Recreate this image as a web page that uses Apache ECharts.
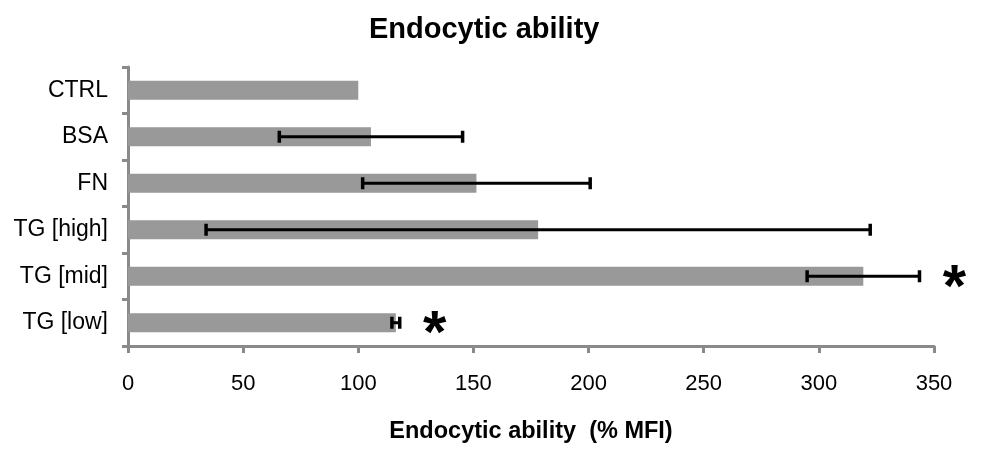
<!DOCTYPE html>
<html>
<head>
<meta charset="utf-8">
<script src="https://cdn.jsdelivr.net/npm/echarts@6/dist/echarts.min.js"></script>
<style>
html,body{margin:0;padding:0;background:#fff;}
#chart{width:984px;height:458px;}
</style>
</head>
<body>
<div id="chart"></div>
<script>
const categories = ['CTRL', 'BSA', 'FN', 'TG [high]', 'TG [mid]', 'TG [low]'];
const means = [100, 105.5, 151.3, 178.1, 319.3, 116.3];
const errors = [0, 39.8, 49.4, 144.2, 24.4, 1.7];
const significance = ['', '', '', '', '*', '*'];
const xTicks = [0, 50, 100, 150, 200, 250, 300, 350];

const FONT = '"Liberation Sans", Arial, sans-serif';
const chart = echarts.init(document.getElementById('chart'), null, {renderer: 'canvas'});

const errData = categories.map((c, i) => [i, means[i] - errors[i], means[i] + errors[i], errors[i]]);

chart.setOption({
  animation: false,
  backgroundColor: '#fff',
  title: {
    text: 'Endocytic ability',
    left: 364,
    top: 10,
    textStyle: {fontFamily: FONT, fontSize: 29, fontWeight: 'bold', color: '#000'}
  },
  grid: {left: 128, right: 50, top: 67, bottom: 112, containLabel: false},
  xAxis: {
    type: 'value',
    min: xTicks[0],
    max: xTicks[xTicks.length - 1],
    interval: 50,
    name: 'Endocytic ability  (% MFI)',
    nameLocation: 'middle',
    nameGap: 74,
    nameTextStyle: {fontFamily: FONT, fontSize: 23.5, fontWeight: 'bold', color: '#000'},
    axisLine: {show: true, lineStyle: {color: '#8a8a8a', width: 3}},
    axisTick: {show: true, length: 7, lineStyle: {color: '#8a8a8a', width: 3}},
    axisLabel: {fontFamily: FONT, fontSize: 22, color: '#000', margin: 27},
    splitLine: {show: false}
  },
  yAxis: {
    type: 'category',
    data: categories,
    inverse: true,
    axisLine: {show: true, lineStyle: {color: '#8a8a8a', width: 3}},
    axisTick: {show: true, length: 6, lineStyle: {color: '#8a8a8a', width: 3}},
    axisLabel: {fontFamily: FONT, fontSize: 23, color: '#000', margin: 20}
  },
  series: [
    {
      type: 'bar',
      data: means,
      barWidth: '41%',
      itemStyle: {color: '#999999'},
      z: 2
    },
    {
      type: 'custom',
      data: errData,
      clip: false,
      z: 5,
      encode: {x: [1, 2], y: 0},
      renderItem: function (params, api) {
        const idx = api.value(0);
        const lo = api.coord([api.value(1), idx]);
        const hi = api.coord([api.value(2), idx]);
        const children = [];
        const cap = 6;
        if (api.value(3) > 0) {
          children.push({type: 'line', shape: {x1: lo[0], y1: lo[1], x2: hi[0], y2: hi[1]}, style: {stroke: '#000', lineWidth: 3}});
          children.push({type: 'line', shape: {x1: lo[0], y1: lo[1] - cap, x2: lo[0], y2: lo[1] + cap}, style: {stroke: '#000', lineWidth: 3.5}});
          children.push({type: 'line', shape: {x1: hi[0], y1: hi[1] - cap, x2: hi[0], y2: hi[1] + cap}, style: {stroke: '#000', lineWidth: 3.5}});
        }
        const sig = significance[idx];
        if (sig) {
          children.push({
            type: 'text',
            x: hi[0] + 35,
            y: hi[1] + 13,
            style: {text: sig, fontFamily: FONT, fontSize: 60, fontWeight: 'bold', fill: '#000', align: 'center', verticalAlign: 'middle'}
          });
        }
        return {type: 'group', children: children};
      }
    }
  ]
});
</script>
</body>
</html>
